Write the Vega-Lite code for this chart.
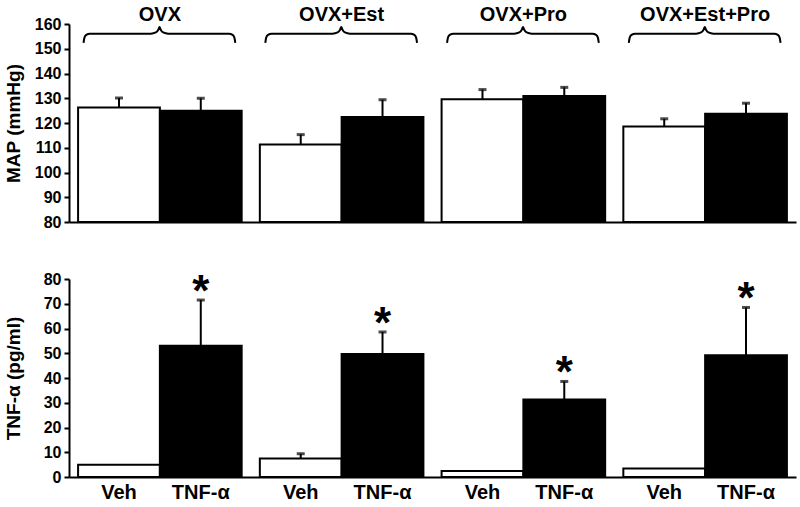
{
  "$schema": "https://vega.github.io/schema/vega-lite/v6.json",
  "padding": {"left": 4, "top": 5, "right": 5, "bottom": 5},
  "config": {
    "font": "Liberation Sans",
    "view": {"stroke": null},
    "axis": {
      "grid": false,
      "domainColor": "black",
      "domainWidth": 2,
      "tickColor": "black",
      "tickWidth": 2,
      "tickSize": 5,
      "labelColor": "black",
      "labelFont": "Liberation Sans",
      "labelFontWeight": "bold",
      "labelFontSize": 16,
      "titleFont": "Liberation Sans",
      "titleFontWeight": "bold",
      "titleFontSize": 19,
      "titleColor": "black"
    }
  },
  "datasets": {
    "bars": [
      {"group": "OVX", "treatment": "Veh", "map": 126.3, "mapErr": 130.1, "tnf": 5.0, "tnfErr": null, "sig": ""},
      {"group": "OVX", "treatment": "TNF-α", "map": 125.0, "mapErr": 130.0, "tnf": 53.0, "tnfErr": 71.5, "sig": "*"},
      {"group": "OVX+Est", "treatment": "Veh", "map": 111.3, "mapErr": 115.3, "tnf": 7.5, "tnfErr": 9.4, "sig": ""},
      {"group": "OVX+Est", "treatment": "TNF-α", "map": 122.4, "mapErr": 129.4, "tnf": 49.7, "tnfErr": 58.6, "sig": "*"},
      {"group": "OVX+Pro", "treatment": "Veh", "map": 129.6, "mapErr": 133.5, "tnf": 2.4, "tnfErr": null, "sig": ""},
      {"group": "OVX+Pro", "treatment": "TNF-α", "map": 130.9, "mapErr": 134.4, "tnf": 31.3, "tnfErr": 38.6, "sig": "*"},
      {"group": "OVX+Est+Pro", "treatment": "Veh", "map": 118.6, "mapErr": 121.7, "tnf": 3.4, "tnfErr": null, "sig": ""},
      {"group": "OVX+Est+Pro", "treatment": "TNF-α", "map": 123.7, "mapErr": 128.0, "tnf": 49.2, "tnfErr": 68.5, "sig": "*"}
    ],
    "groups": [
      {"group": "OVX"}, {"group": "OVX+Est"}, {"group": "OVX+Pro"}, {"group": "OVX+Est+Pro"}
    ],
    "brace": [
      {"group": "OVX", "bx": 0.080, "by": 152.4},
      {"group": "OVX", "bx": 0.085, "by": 154.5},
      {"group": "OVX", "bx": 0.095, "by": 155.6},
      {"group": "OVX", "bx": 0.115, "by": 156.1},
      {"group": "OVX", "bx": 0.450, "by": 156.1},
      {"group": "OVX", "bx": 0.478, "by": 156.6},
      {"group": "OVX", "bx": 0.492, "by": 157.8},
      {"group": "OVX", "bx": 0.498, "by": 158.8},
      {"group": "OVX", "bx": 0.504, "by": 157.8},
      {"group": "OVX", "bx": 0.518, "by": 156.6},
      {"group": "OVX", "bx": 0.546, "by": 156.1},
      {"group": "OVX", "bx": 0.880, "by": 156.1},
      {"group": "OVX", "bx": 0.900, "by": 155.6},
      {"group": "OVX", "bx": 0.910, "by": 154.5},
      {"group": "OVX", "bx": 0.915, "by": 152.4},
      {"group": "OVX+Est", "bx": 1.080, "by": 152.4},
      {"group": "OVX+Est", "bx": 1.085, "by": 154.5},
      {"group": "OVX+Est", "bx": 1.095, "by": 155.6},
      {"group": "OVX+Est", "bx": 1.115, "by": 156.1},
      {"group": "OVX+Est", "bx": 1.450, "by": 156.1},
      {"group": "OVX+Est", "bx": 1.478, "by": 156.6},
      {"group": "OVX+Est", "bx": 1.492, "by": 157.8},
      {"group": "OVX+Est", "bx": 1.498, "by": 158.8},
      {"group": "OVX+Est", "bx": 1.504, "by": 157.8},
      {"group": "OVX+Est", "bx": 1.518, "by": 156.6},
      {"group": "OVX+Est", "bx": 1.546, "by": 156.1},
      {"group": "OVX+Est", "bx": 1.880, "by": 156.1},
      {"group": "OVX+Est", "bx": 1.900, "by": 155.6},
      {"group": "OVX+Est", "bx": 1.910, "by": 154.5},
      {"group": "OVX+Est", "bx": 1.915, "by": 152.4},
      {"group": "OVX+Pro", "bx": 2.080, "by": 152.4},
      {"group": "OVX+Pro", "bx": 2.085, "by": 154.5},
      {"group": "OVX+Pro", "bx": 2.095, "by": 155.6},
      {"group": "OVX+Pro", "bx": 2.115, "by": 156.1},
      {"group": "OVX+Pro", "bx": 2.450, "by": 156.1},
      {"group": "OVX+Pro", "bx": 2.478, "by": 156.6},
      {"group": "OVX+Pro", "bx": 2.492, "by": 157.8},
      {"group": "OVX+Pro", "bx": 2.498, "by": 158.8},
      {"group": "OVX+Pro", "bx": 2.504, "by": 157.8},
      {"group": "OVX+Pro", "bx": 2.518, "by": 156.6},
      {"group": "OVX+Pro", "bx": 2.546, "by": 156.1},
      {"group": "OVX+Pro", "bx": 2.880, "by": 156.1},
      {"group": "OVX+Pro", "bx": 2.900, "by": 155.6},
      {"group": "OVX+Pro", "bx": 2.910, "by": 154.5},
      {"group": "OVX+Pro", "bx": 2.915, "by": 152.4},
      {"group": "OVX+Est+Pro", "bx": 3.080, "by": 152.4},
      {"group": "OVX+Est+Pro", "bx": 3.085, "by": 154.5},
      {"group": "OVX+Est+Pro", "bx": 3.095, "by": 155.6},
      {"group": "OVX+Est+Pro", "bx": 3.115, "by": 156.1},
      {"group": "OVX+Est+Pro", "bx": 3.450, "by": 156.1},
      {"group": "OVX+Est+Pro", "bx": 3.478, "by": 156.6},
      {"group": "OVX+Est+Pro", "bx": 3.492, "by": 157.8},
      {"group": "OVX+Est+Pro", "bx": 3.498, "by": 158.8},
      {"group": "OVX+Est+Pro", "bx": 3.504, "by": 157.8},
      {"group": "OVX+Est+Pro", "bx": 3.518, "by": 156.6},
      {"group": "OVX+Est+Pro", "bx": 3.546, "by": 156.1},
      {"group": "OVX+Est+Pro", "bx": 3.880, "by": 156.1},
      {"group": "OVX+Est+Pro", "bx": 3.900, "by": 155.6},
      {"group": "OVX+Est+Pro", "bx": 3.910, "by": 154.5},
      {"group": "OVX+Est+Pro", "bx": 3.915, "by": 152.4}
    ]
  },
  "spacing": 41,
  "vconcat": [
    {
      "width": 727,
      "height": 198,
      "resolve": {"scale": {"x": "independent"}},
      "layer": [
        {
          "layer": [
            {
              "data": {"name": "bars"},
              "mark": {"type": "bar", "stroke": "black", "strokeWidth": 2},
              "encoding": {
                "x": {"field": "group", "type": "nominal", "scale": {"domain": ["OVX", "OVX+Est", "OVX+Pro", "OVX+Est+Pro"], "paddingInner": 0.1, "paddingOuter": 0.05}, "axis": {"labels": false, "ticks": false, "title": null, "domain": true}},
                "xOffset": {"field": "treatment", "type": "nominal", "scale": {"domain": ["Veh", "TNF-α"], "paddingInner": 0, "paddingOuter": 0}},
                "y": {"field": "map", "type": "quantitative", "scale": {"domain": [80, 160], "nice": false, "zero": false}, "axis": {"title": "MAP (mmHg)", "values": [80, 90, 100, 110, 120, 130, 140, 150, 160], "minExtent": 40, "maxExtent": 40, "titlePadding": 6, "labelPadding": 3}},
                "y2": {"datum": 80},
                "fill": {"field": "treatment", "type": "nominal", "scale": {"domain": ["Veh", "TNF-α"], "range": ["white", "black"]}, "legend": null}
              }
            },
            {
              "data": {"name": "bars"},
              "mark": {"type": "rule", "strokeWidth": 2, "color": "black"},
              "encoding": {
                "x": {"field": "group", "type": "nominal", "scale": {"domain": ["OVX", "OVX+Est", "OVX+Pro", "OVX+Est+Pro"], "paddingInner": 0.1, "paddingOuter": 0.05}, "axis": {"labels": false, "ticks": false, "title": null, "domain": true}},
                "xOffset": {"field": "treatment", "type": "nominal", "scale": {"domain": ["Veh", "TNF-α"], "paddingInner": 0, "paddingOuter": 0}},
                "y": {"field": "map", "type": "quantitative", "scale": {"domain": [80, 160], "nice": false, "zero": false}, "axis": {"title": "MAP (mmHg)", "values": [80, 90, 100, 110, 120, 130, 140, 150, 160], "minExtent": 40, "maxExtent": 40, "titlePadding": 6, "labelPadding": 3}},
                "y2": {"field": "mapErr"}
              }
            },
            {
              "data": {"name": "bars"},
              "mark": {"type": "tick", "thickness": 3, "size": 8, "color": "black"},
              "encoding": {
                "x": {"field": "group", "type": "nominal", "scale": {"domain": ["OVX", "OVX+Est", "OVX+Pro", "OVX+Est+Pro"], "paddingInner": 0.1, "paddingOuter": 0.05}, "axis": {"labels": false, "ticks": false, "title": null, "domain": true}},
                "xOffset": {"field": "treatment", "type": "nominal", "scale": {"domain": ["Veh", "TNF-α"], "paddingInner": 0, "paddingOuter": 0}},
                "y": {"field": "mapErr", "type": "quantitative", "scale": {"domain": [80, 160], "nice": false, "zero": false}, "axis": {"title": "MAP (mmHg)", "values": [80, 90, 100, 110, 120, 130, 140, 150, 160], "minExtent": 40, "maxExtent": 40, "titlePadding": 6, "labelPadding": 3}}
              }
            },
            {
              "data": {"name": "groups"},
              "mark": {"type": "text", "fontSize": 20, "fontWeight": "bold", "baseline": "alphabetic", "dy": -3, "color": "black"},
              "encoding": {
                "x": {"field": "group", "type": "nominal", "scale": {"domain": ["OVX", "OVX+Est", "OVX+Pro", "OVX+Est+Pro"], "paddingInner": 0.1, "paddingOuter": 0.05}, "axis": {"labels": false, "ticks": false, "title": null, "domain": true}},
                "y": {"datum": 160, "type": "quantitative", "scale": {"domain": [80, 160], "nice": false, "zero": false}, "axis": {"title": "MAP (mmHg)", "values": [80, 90, 100, 110, 120, 130, 140, 150, 160], "minExtent": 40, "maxExtent": 40, "titlePadding": 6, "labelPadding": 3}},
                "text": {"field": "group"}
              }
            }
          ]
        },
        {
          "data": {"name": "brace"},
          "mark": {"type": "line", "interpolate": "monotone", "strokeWidth": 2, "color": "black"},
          "encoding": {
            "x": {"field": "bx", "type": "quantitative", "scale": {"domain": [0, 4], "nice": false, "zero": false}, "axis": null},
            "y": {"field": "by", "type": "quantitative", "scale": {"domain": [80, 160], "nice": false, "zero": false}, "axis": {"title": "MAP (mmHg)", "values": [80, 90, 100, 110, 120, 130, 140, 150, 160], "minExtent": 40, "maxExtent": 40, "titlePadding": 6, "labelPadding": 3}},
            "detail": {"field": "group"}
          }
        }
      ]
    },
    {
      "width": 727,
      "height": 198,
      "data": {"name": "bars"},
      "layer": [
        {
          "mark": {"type": "bar", "stroke": "black", "strokeWidth": 2},
          "encoding": {
            "x": {"field": "group", "type": "nominal", "scale": {"domain": ["OVX", "OVX+Est", "OVX+Pro", "OVX+Est+Pro"], "paddingInner": 0.1, "paddingOuter": 0.05}, "axis": {"labels": false, "ticks": false, "title": null, "domain": true}},
            "xOffset": {"field": "treatment", "type": "nominal", "scale": {"domain": ["Veh", "TNF-α"], "paddingInner": 0, "paddingOuter": 0}},
            "y": {"field": "tnf", "type": "quantitative", "scale": {"domain": [0, 80], "nice": false}, "axis": {"title": "TNF-α (pg/ml)", "values": [0, 10, 20, 30, 40, 50, 60, 70, 80], "minExtent": 40, "maxExtent": 40, "titlePadding": 6, "labelPadding": 3}},
            "y2": {"datum": 0},
            "fill": {"field": "treatment", "type": "nominal", "scale": {"domain": ["Veh", "TNF-α"], "range": ["white", "black"]}, "legend": null}
          }
        },
        {
          "transform": [{"filter": "isValid(datum.tnfErr)"}],
          "mark": {"type": "rule", "strokeWidth": 2, "color": "black"},
          "encoding": {
            "x": {"field": "group", "type": "nominal", "scale": {"domain": ["OVX", "OVX+Est", "OVX+Pro", "OVX+Est+Pro"], "paddingInner": 0.1, "paddingOuter": 0.05}, "axis": {"labels": false, "ticks": false, "title": null, "domain": true}},
            "xOffset": {"field": "treatment", "type": "nominal", "scale": {"domain": ["Veh", "TNF-α"], "paddingInner": 0, "paddingOuter": 0}},
            "y": {"field": "tnf", "type": "quantitative", "scale": {"domain": [0, 80], "nice": false}, "axis": {"title": "TNF-α (pg/ml)", "values": [0, 10, 20, 30, 40, 50, 60, 70, 80], "minExtent": 40, "maxExtent": 40, "titlePadding": 6, "labelPadding": 3}},
            "y2": {"field": "tnfErr"}
          }
        },
        {
          "transform": [{"filter": "isValid(datum.tnfErr)"}],
          "mark": {"type": "tick", "thickness": 3, "size": 8, "color": "black"},
          "encoding": {
            "x": {"field": "group", "type": "nominal", "scale": {"domain": ["OVX", "OVX+Est", "OVX+Pro", "OVX+Est+Pro"], "paddingInner": 0.1, "paddingOuter": 0.05}, "axis": {"labels": false, "ticks": false, "title": null, "domain": true}},
            "xOffset": {"field": "treatment", "type": "nominal", "scale": {"domain": ["Veh", "TNF-α"], "paddingInner": 0, "paddingOuter": 0}},
            "y": {"field": "tnfErr", "type": "quantitative", "scale": {"domain": [0, 80], "nice": false}, "axis": {"title": "TNF-α (pg/ml)", "values": [0, 10, 20, 30, 40, 50, 60, 70, 80], "minExtent": 40, "maxExtent": 40, "titlePadding": 6, "labelPadding": 3}}
          }
        },
        {
          "transform": [{"filter": "datum.sig == '*'"}],
          "mark": {"type": "text", "fontSize": 44, "fontWeight": "bold", "baseline": "alphabetic", "dy": 6, "color": "black"},
          "encoding": {
            "x": {"field": "group", "type": "nominal", "scale": {"domain": ["OVX", "OVX+Est", "OVX+Pro", "OVX+Est+Pro"], "paddingInner": 0.1, "paddingOuter": 0.05}, "axis": {"labels": false, "ticks": false, "title": null, "domain": true}},
            "xOffset": {"field": "treatment", "type": "nominal", "scale": {"domain": ["Veh", "TNF-α"], "paddingInner": 0, "paddingOuter": 0}},
            "y": {"field": "tnfErr", "type": "quantitative", "scale": {"domain": [0, 80], "nice": false}, "axis": {"title": "TNF-α (pg/ml)", "values": [0, 10, 20, 30, 40, 50, 60, 70, 80], "minExtent": 40, "maxExtent": 40, "titlePadding": 6, "labelPadding": 3}},
            "text": {"field": "sig"}
          }
        },
        {
          "mark": {"type": "text", "fontSize": 20, "fontWeight": "bold", "baseline": "top", "dy": 6, "color": "black"},
          "encoding": {
            "x": {"field": "group", "type": "nominal", "scale": {"domain": ["OVX", "OVX+Est", "OVX+Pro", "OVX+Est+Pro"], "paddingInner": 0.1, "paddingOuter": 0.05}, "axis": {"labels": false, "ticks": false, "title": null, "domain": true}},
            "xOffset": {"field": "treatment", "type": "nominal", "scale": {"domain": ["Veh", "TNF-α"], "paddingInner": 0, "paddingOuter": 0}},
            "y": {"datum": 0, "type": "quantitative", "scale": {"domain": [0, 80], "nice": false}, "axis": {"title": "TNF-α (pg/ml)", "values": [0, 10, 20, 30, 40, 50, 60, 70, 80], "minExtent": 40, "maxExtent": 40, "titlePadding": 6, "labelPadding": 3}},
            "text": {"field": "treatment"}
          }
        }
      ]
    }
  ]
}
